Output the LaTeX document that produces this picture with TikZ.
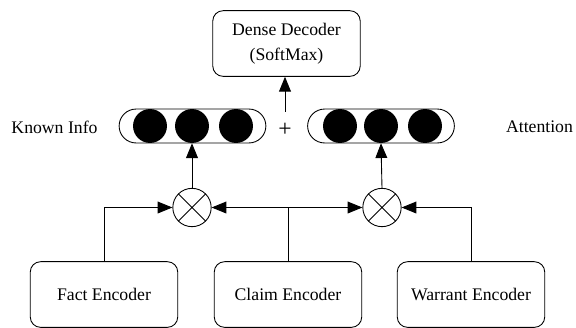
\documentclass[tikz,border=0pt]{standalone}
\usepackage{fontspec}
\setmainfont{Liberation Serif}
\usetikzlibrary{arrows.meta}

\begin{document}
\begin{tikzpicture}[
    x=0.678pt, y=-0.678pt,
    font=\fontsize{12}{17}\selectfont,
    box/.style={draw, line width=0.6pt, rounded corners=7pt, minimum width=100pt, minimum height=44.5pt, align=center},
    capsule/.style={draw, line width=0.6pt, rounded corners=11.5pt, minimum width=99.5pt, minimum height=23pt, inner sep=0pt},
    dot/.style={circle, fill=black, minimum size=23pt, inner sep=0pt},
    mult/.style={circle, draw, line width=0.6pt, minimum size=26pt, inner sep=0pt},
    arr/.style={-{Triangle[length=10pt,width=8pt]}, line width=0.6pt},
    link/.style={line width=0.6pt}
]
    \useasboundingbox (0,0) rectangle (576,327);

    % Decoder on top
    \node[box] (dec) at (286.5,43.5) {Dense Decoder\\(SoftMax)};

    % Two vectors with their circles
    \node[capsule] (kvec) at (192.5,126) {};
    \node[capsule] (avec) at (381,126) {};
    \foreach \i/\x in {1/150,2/192,3/236}
        \node[dot] (k\i) at (\x,126) {};
    \foreach \i/\x in {1/340,2/381,3/425}
        \node[dot] (a\i) at (\x,126) {};

    \node (known) at (54.5,127) {Known Info};
    \node (attn) at (539.5,127) {Attention};
    \node[inner sep=0pt, minimum height=23.7pt, font=\fontsize{16}{16}\selectfont] (plus) at (285,129.5) {+};

    % Multiplication nodes
    \node[mult] (m1) at (192,207.5) {};
    \node[mult] (m2) at (382,207.5) {};
    \foreach \m in {m1,m2}
        \draw[link] (\m.45) -- (\m.225) (\m.135) -- (\m.-45);

    % Encoders at the bottom
    \node[box] (fact) at (104,294.5) {Fact Encoder};
    \node[box] (claim) at (288,294.5) {Claim Encoder};
    \node[box] (warr) at (471,294.5) {Warrant Encoder};

    % Connections
    \draw[arr] (fact.north) |- (m1.west);
    \draw[arr] (claim.north) |- (m1.east);
    \draw[arr] (claim.north) |- (m2.west);
    \draw[arr] (warr.north) |- (m2.east);
    \draw[arr] (m1.north) -- (k2.south);
    \draw[arr] (m2.north) -- (a2.south);
    \draw[arr] (plus.north) -- (plus.north |- dec.south);
\end{tikzpicture}
\end{document}
